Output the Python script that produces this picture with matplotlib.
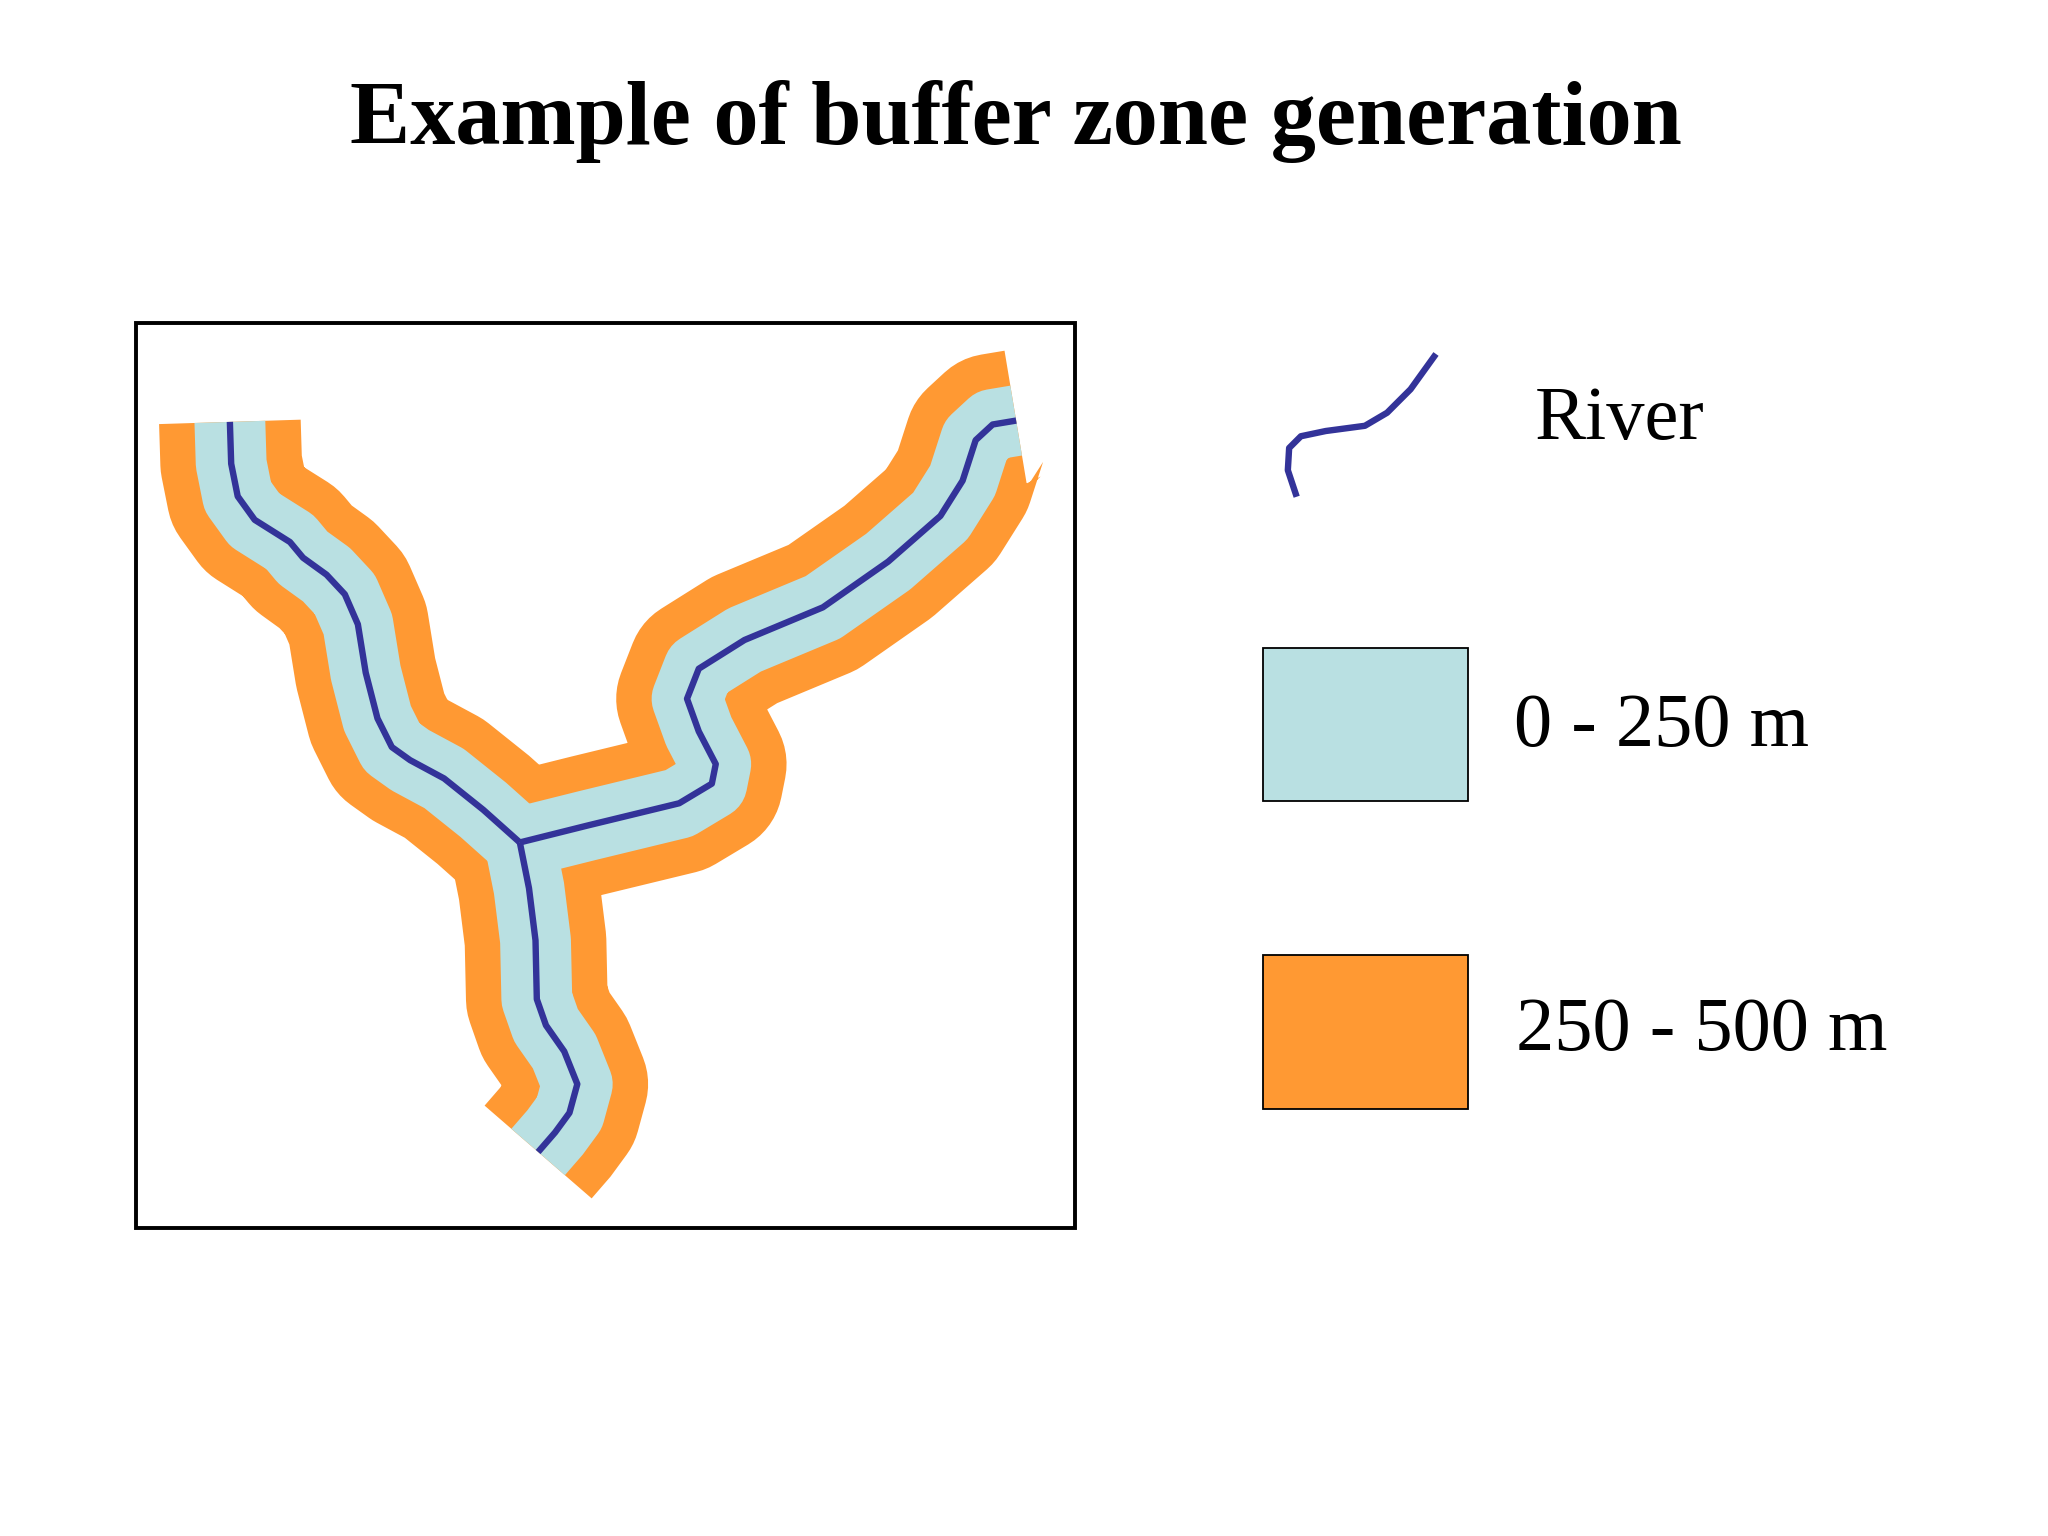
import numpy as np
from matplotlib import pyplot as plt
from matplotlib.patches import Rectangle

# 坐标以参考图 1568x1176 像素为单位
W, H = 1568, 1176
left_branch_x = [176, 177, 182, 195, 222, 232, 250, 264, 274, 280, 289, 300, 314, 340, 370, 398]
left_branch_y = [323, 355, 380, 398, 415, 427, 440, 455, 478, 515, 550, 572, 582, 596, 620, 645]
right_branch_x = [778, 760, 747, 737, 720, 680, 630, 570, 535, 526, 535, 548, 545, 520, 450, 398]
right_branch_y = [322, 325, 337, 368, 395, 430, 465, 490, 512, 535, 560, 585, 600, 615, 632, 645]
bottom_x = [398, 405, 410, 411, 418, 432, 442, 436, 425, 412]
bottom_y = [645, 680, 720, 765, 785, 805, 830, 852, 867, 882]
legend_river_x = [992, 986, 987, 996, 1015, 1045, 1062, 1080, 1098]
legend_river_y = [378, 360, 343, 334, 330, 326, 316, 298, 273]

orange = '#FF9933'
light_blue = '#B9E0E2'
river_color = '#333399'

plt.rcParams['font.family'] = ['Liberation Serif', 'DejaVu Serif']
fig = plt.figure(figsize=(20.48, 15.36), dpi=100)
ax = fig.add_axes([0, 0, 1, 1])
ax.set_xlim(0, W)
ax.set_ylim(H, 0)
ax.axis('off')

branches = [(left_branch_x, left_branch_y), (right_branch_x, right_branch_y), (bottom_x, bottom_y)]
for lw, c in [(102, orange), (51, light_blue), (4.6, river_color)]:
    for bx, by in branches:
        ax.plot(bx, by, color=c, lw=lw, solid_capstyle='butt', solid_joinstyle='round')

# 外框
ax.add_patch(Rectangle((104, 247), 719, 693, fill=False, lw=2.8, ec='black'))

# 图例
ax.plot(legend_river_x, legend_river_y, color=river_color, lw=4.6, solid_joinstyle='round')
ax.add_patch(Rectangle((967, 496), 157, 117, fc=light_blue, ec='black', lw=1.3))
ax.add_patch(Rectangle((967, 731), 157, 118, fc=orange, ec='black', lw=1.3))
ax.text(1240, 322, 'River', fontsize=55, ha='center', va='center')
ax.text(1272, 557, '0 - 250 m', fontsize=55, ha='center', va='center')
ax.text(1303, 790, '250 - 500 m', fontsize=55, ha='center', va='center')

ax.text(778, 93, 'Example of buffer zone generation', fontsize=65, fontweight='bold',
        ha='center', va='center')

fig.savefig('out.png', dpi=100)
